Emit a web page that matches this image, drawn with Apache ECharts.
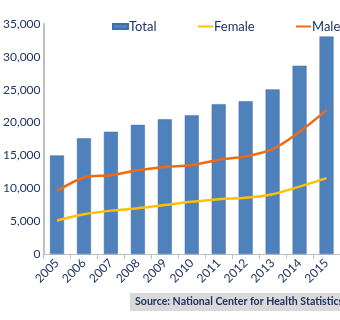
<!DOCTYPE html>
<html><head><meta charset="utf-8">
<script src="https://cdn.jsdelivr.net/npm/echarts@6/dist/echarts.min.js"></script>
<style>html,body{margin:0;padding:0;background:#fff}#c{width:340px;height:320px}</style>
</head><body><div id="c"></div>
<script>
var years = ['2005','2006','2007','2008','2009','2010','2011','2012','2013','2014','2015'];
var totalValues = [15000, 17600, 18600, 19650, 20500, 21100, 22800, 23250, 25050, 28650, 33100];
var femaleValues = [5100, 6050, 6600, 6950, 7450, 7950, 8350, 8550, 9100, 10250, 11550];
var maleValues = [9600, 11650, 12000, 12750, 13250, 13500, 14350, 14850, 15950, 18600, 21900];
var yTicks = [0, 5000, 10000, 15000, 20000, 25000, 30000, 35000];
var sourceText = 'Source: National Center for Health Statistics';

var navy = '#1f3460';
var font = 'Lato';
var chart = echarts.init(document.getElementById('c'), null, {renderer:'canvas'});
chart.setOption({
  animation:false,
  textStyle:{fontFamily:font},
  legend:[
    {data:['Total'], left:107, top:15, itemWidth:15, itemHeight:5, itemGap:0, icon:'rect',
     textStyle:{color:navy, fontSize:13, fontFamily:font, padding:[0,0,0,-4]}},
    {data:['Female'], left:193, top:15, itemWidth:15, itemHeight:2, icon:'rect',
     textStyle:{color:navy, fontSize:13, fontFamily:font, padding:[0,0,0,-4]}},
    {data:['Male'], left:291, top:15, itemWidth:15, itemHeight:2, icon:'rect',
     textStyle:{color:navy, fontSize:13, fontFamily:font, padding:[0,0,0,-4]}}
  ],
  grid:{left:35, top:24, width:314, height:230, containLabel:false},
  xAxis:{type:'category', data:years, boundaryGap:true,
    axisLine:{lineStyle:{color:'#bfbfbf'}},
    axisTick:{show:true, length:5, lineStyle:{color:'#bfbfbf'}},
    axisLabel:{rotate:45, color:navy, fontSize:12, fontFamily:font, margin:7, interval:0}},
  yAxis:{type:'value', min:yTicks[0], max:yTicks[yTicks.length-1], interval:5000,
    axisLine:{show:true, lineStyle:{color:'#bfbfbf', width:2}},
    axisTick:{show:false}, splitLine:{show:false},
    axisLabel:{color:navy, fontSize:12, fontFamily:font, margin:3,
      formatter:function(v){return v.toLocaleString('en-US');}}},
  series:[
    {name:'Total', type:'bar', data:totalValues, barWidth:14,
     itemStyle:{color:'#4f81bd', borderColor:'#3f6ea8', borderWidth:0.5}},
    {name:'Female', type:'line', data:femaleValues, smooth:0.3, showSymbol:false, symbol:'none',
     lineStyle:{color:'#ffc000', width:2.5}, itemStyle:{color:'#ffc000'}},
    {name:'Male', type:'line', data:maleValues, smooth:0.3, showSymbol:false, symbol:'none',
     lineStyle:{color:'#f26a10', width:2.5}, itemStyle:{color:'#f26a10'}}
  ],
  graphic:[
    {type:'rect', left:130, top:293, shape:{width:210, height:18}, style:{fill:'#d9d9d9'}},
    {type:'text', left:135, top:296, style:{text:sourceText, fill:navy, fontSize:10.6, fontWeight:'bold', fontFamily:font}}
  ]
});
</script></body></html>
